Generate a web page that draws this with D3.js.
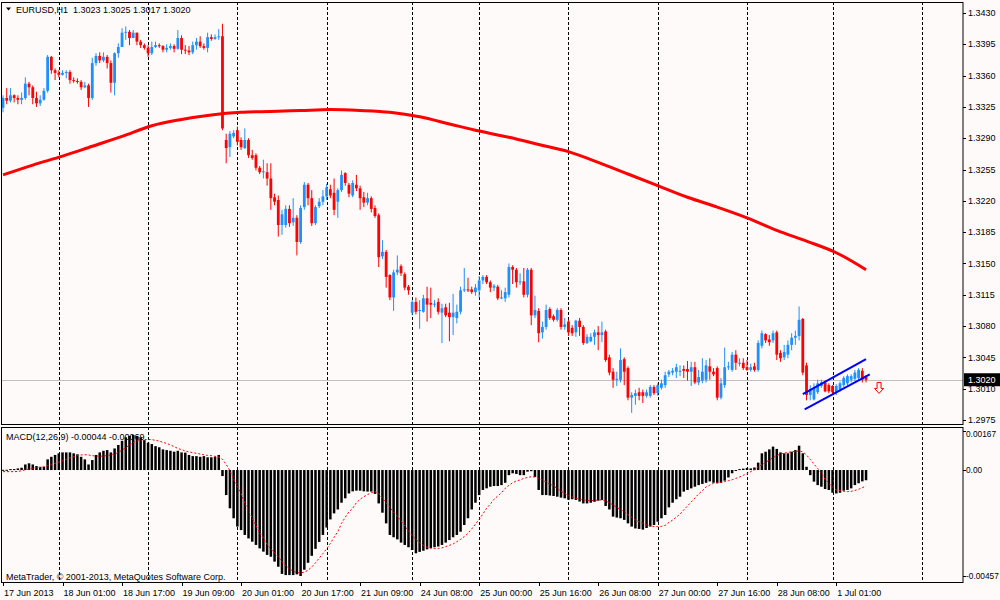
<!DOCTYPE html>
<html>
<head>
<meta charset="utf-8">
<script src="https://cdn.jsdelivr.net/npm/d3@7"></script>
<style>
  body { margin: 0; background: #fffafa; }
  svg text { font-family: "Liberation Sans", Arial, sans-serif; font-size: 9px; fill: #000; }
</style>
</head>
<body>
<svg id="chart" width="1000" height="600"></svg>
<script>
// EURUSD H1 candles, bar 0 = first visible bar (17 Jun 2013)

const open = [
  1.3324,1.3335,1.3332,1.3338,1.3335,1.3333,1.3335,1.3351,1.3347,1.3335,
  1.3329,1.3333,1.3343,1.3381,1.3366,1.3363,1.3361,1.3363,1.3364,1.3355,
  1.3354,1.3353,1.3347,1.3349,1.3335,1.3374,1.3382,1.3377,1.3381,1.3374,
  1.3352,1.3385,1.3392,1.3408,1.3409,1.3402,1.3408,1.3398,1.3394,1.3391,
  1.3385,1.3392,1.3394,1.3393,1.3389,1.3391,1.3393,1.3390,1.3402,1.3389,
  1.3388,1.3386,1.3394,1.3398,1.3393,1.3391,1.3403,1.3401,1.3403,1.3404,
  1.3288,1.3280,1.3292,1.3299,1.3288,1.3279,1.3288,1.3271,1.3271,1.3257,
  1.3252,1.3252,1.3245,1.3224,1.3221,1.3193,1.3193,1.3211,1.3196,1.3201,
  1.3174,1.3213,1.3238,1.3223,1.3195,1.3214,1.3219,1.3225,1.3233,1.3229,
  1.3219,1.3232,1.3251,1.3238,1.3226,1.3238,1.3234,1.3224,1.3218,1.3223,
  1.3212,1.3204,1.3158,1.3163,1.3137,1.3112,1.3140,1.3147,1.3138,1.3124,
  1.3095,1.3107,1.3097,1.3096,1.3111,1.3106,1.3104,1.3107,1.3095,1.3101,
  1.3095,1.3090,1.3089,1.3096,1.3120,1.3121,1.3121,1.3118,1.3120,1.3131,
  1.3135,1.3129,1.3123,1.3124,1.3111,1.3111,1.3115,1.3146,1.3143,1.3129,
  1.3130,1.3115,1.3143,1.3092,1.3097,1.3073,1.3079,1.3099,1.3091,1.3087,
  1.3098,1.3079,1.3085,1.3078,1.3073,1.3086,1.3079,1.3061,1.3063,1.3068,
  1.3073,1.3070,1.3074,1.3045,1.3029,1.3020,1.3020,1.3043,1.3033,1.3000,
  1.3002,1.3006,1.3006,1.3002,1.3002,1.3012,1.3005,1.3011,1.3014,1.3026,
  1.3028,1.3029,1.3029,1.3032,1.3032,1.3029,1.3034,1.3017,1.3019,1.3020,
  1.3035,1.3029,1.3033,1.3000,1.3014,1.3034,1.3031,1.3048,1.3038,1.3039,
  1.3034,1.3031,1.3035,1.3031,1.3058,1.3071,1.3065,1.3064,1.3073,1.3050,
  1.3045,1.3048,1.3059,1.3067,1.3069,1.3088,1.3036,1.3003,1.2998,1.3006,
  1.3013,1.3017,1.3014,1.3013,1.3006,1.3009,1.3014,1.3016,1.3020,1.3021,
  1.3022,1.3030,1.3023
];

const high = [
  1.3338,1.3346,1.3346,1.3339,1.3338,1.3341,1.3358,1.3353,1.3349,1.3342,
  1.3338,1.3346,1.3383,1.3382,1.3368,1.3366,1.3366,1.3366,1.3366,1.3358,
  1.3357,1.3355,1.3353,1.3351,1.3380,1.3385,1.3386,1.3386,1.3383,1.3377,
  1.3386,1.3396,1.3413,1.3415,1.3411,1.3411,1.3408,1.3400,1.3396,1.3394,
  1.3398,1.3398,1.3396,1.3394,1.3395,1.3396,1.3395,1.3411,1.3405,1.3394,
  1.3393,1.3398,1.3402,1.3404,1.3396,1.3408,1.3406,1.3406,1.3412,1.3418,
  1.3295,1.3298,1.3299,1.3303,1.3291,1.3301,1.3290,1.3277,1.3273,1.3259,
  1.3266,1.3262,1.3262,1.3228,1.3226,1.3210,1.3215,1.3215,1.3223,1.3204,
  1.3215,1.3241,1.3240,1.3232,1.3215,1.3223,1.3232,1.3239,1.3238,1.3245,
  1.3234,1.3254,1.3252,1.3240,1.3243,1.3249,1.3237,1.3230,1.3229,1.3225,
  1.3215,1.3206,1.3176,1.3165,1.3138,1.3143,1.3159,1.3149,1.3140,1.3126,
  1.3109,1.3112,1.3109,1.3115,1.3124,1.3123,1.3109,1.3111,1.3105,1.3105,
  1.3106,1.3116,1.3104,1.3124,1.3145,1.3134,1.3124,1.3127,1.3136,1.3137,
  1.3137,1.3131,1.3127,1.3126,1.3120,1.3123,1.3150,1.3148,1.3145,1.3139,
  1.3145,1.3145,1.3145,1.3114,1.3100,1.3085,1.3104,1.3101,1.3093,1.3100,
  1.3100,1.3089,1.3087,1.3081,1.3087,1.3089,1.3081,1.3071,1.3072,1.3076,
  1.3080,1.3085,1.3076,1.3048,1.3033,1.3029,1.3055,1.3045,1.3035,1.3006,
  1.3009,1.3011,1.3009,1.3009,1.3014,1.3014,1.3016,1.3020,1.3029,1.3031,
  1.3033,1.3038,1.3036,1.3036,1.3041,1.3040,1.3040,1.3031,1.3044,1.3042,
  1.3044,1.3033,1.3035,1.3022,1.3056,1.3040,1.3051,1.3053,1.3044,1.3044,
  1.3042,1.3038,1.3039,1.3064,1.3075,1.3072,1.3070,1.3075,1.3075,1.3053,
  1.3059,1.3064,1.3072,1.3075,1.3102,1.3089,1.3039,1.3014,1.3016,1.3020,
  1.3020,1.3019,1.3016,1.3014,1.3015,1.3018,1.3024,1.3026,1.3026,1.3031,
  1.3033,1.3033,1.3025
];

const low = [
  1.3319,1.3328,1.3330,1.3330,1.3328,1.3328,1.3333,1.3338,1.3328,1.3325,
  1.3326,1.3332,1.3341,1.3362,1.3355,1.3358,1.3360,1.3357,1.3351,1.3352,
  1.3351,1.3344,1.3346,1.3325,1.3333,1.3371,1.3374,1.3375,1.3368,1.3341,
  1.3338,1.3380,1.3394,1.3400,1.3394,1.3402,1.3394,1.3391,1.3389,1.3381,
  1.3383,1.3391,1.3391,1.3386,1.3386,1.3389,1.3386,1.3389,1.3384,1.3384,
  1.3383,1.3384,1.3389,1.3391,1.3389,1.3386,1.3399,1.3400,1.3400,1.3299,
  1.3262,1.3269,1.3290,1.3282,1.3277,1.3278,1.3268,1.3266,1.3254,1.3250,
  1.3245,1.3237,1.3210,1.3215,1.3180,1.3182,1.3190,1.3191,1.3192,1.3159,
  1.3172,1.3210,1.3215,1.3192,1.3193,1.3212,1.3215,1.3221,1.3223,1.3204,
  1.3201,1.3230,1.3237,1.3224,1.3224,1.3231,1.3210,1.3213,1.3215,1.3207,
  1.3201,1.3146,1.3155,1.3123,1.3109,1.3097,1.3137,1.3136,1.3120,1.3115,
  1.3092,1.3093,1.3077,1.3095,1.3085,1.3089,1.3101,1.3093,1.3061,1.3090,
  1.3063,1.3070,1.3083,1.3093,1.3118,1.3118,1.3116,1.3114,1.3112,1.3127,
  1.3127,1.3118,1.3119,1.3109,1.3110,1.3107,1.3112,1.3127,1.3123,1.3126,
  1.3112,1.3112,1.3081,1.3089,1.3062,1.3066,1.3076,1.3087,1.3085,1.3085,
  1.3076,1.3076,1.3069,1.3069,1.3068,1.3069,1.3059,1.3060,1.3062,1.3059,
  1.3053,1.3062,1.3040,1.3025,1.3011,1.3013,1.3017,1.3014,1.2997,1.2983,
  1.2992,1.2997,1.2994,1.3000,1.3000,1.3003,1.3002,1.3009,1.3011,1.3023,
  1.3025,1.3022,1.3024,1.3022,1.3019,1.3013,1.3015,1.3014,1.3016,1.3017,
  1.3020,1.3024,1.2997,1.2998,1.3011,1.3031,1.3029,1.3031,1.3035,1.3031,
  1.3030,1.3029,1.3029,1.3029,1.3055,1.3061,1.3058,1.3061,1.3042,1.3040,
  1.3042,1.3044,1.3053,1.3059,1.3064,1.3025,1.2997,1.2997,1.2997,1.3004,
  1.3011,1.3006,1.3005,1.3004,1.3003,1.3007,1.3012,1.3014,1.3017,1.3019,
  1.3020,1.3017,1.3017
];

const close = [
  1.3335,1.3332,1.3338,1.3335,1.3333,1.3335,1.3351,1.3347,1.3335,1.3329,
  1.3333,1.3343,1.3381,1.3366,1.3363,1.3361,1.3363,1.3364,1.3355,1.3354,
  1.3353,1.3347,1.3349,1.3335,1.3374,1.3382,1.3377,1.3381,1.3374,1.3352,
  1.3385,1.3392,1.3408,1.3409,1.3402,1.3408,1.3398,1.3394,1.3391,1.3385,
  1.3392,1.3394,1.3393,1.3389,1.3391,1.3393,1.3390,1.3402,1.3389,1.3388,
  1.3386,1.3394,1.3398,1.3393,1.3391,1.3403,1.3401,1.3403,1.3404,1.3301,
  1.3279,1.3295,1.3296,1.3286,1.3280,1.3288,1.3271,1.3268,1.3257,1.3252,
  1.3253,1.3245,1.3223,1.3219,1.3193,1.3205,1.3211,1.3195,1.3201,1.3174,
  1.3212,1.3238,1.3223,1.3195,1.3213,1.3219,1.3225,1.3235,1.3226,1.3210,
  1.3232,1.3249,1.3240,1.3228,1.3240,1.3234,1.3223,1.3218,1.3223,1.3211,
  1.3203,1.3157,1.3163,1.3135,1.3112,1.3140,1.3143,1.3139,1.3123,1.3120,
  1.3107,1.3096,1.3098,1.3111,1.3104,1.3104,1.3105,1.3096,1.3100,1.3092,
  1.3090,1.3095,1.3096,1.3120,1.3121,1.3120,1.3118,1.3123,1.3131,1.3135,
  1.3129,1.3123,1.3125,1.3111,1.3112,1.3118,1.3146,1.3143,1.3129,1.3130,
  1.3115,1.3143,1.3092,1.3098,1.3072,1.3079,1.3098,1.3089,1.3087,1.3098,
  1.3079,1.3082,1.3073,1.3072,1.3086,1.3079,1.3061,1.3068,1.3068,1.3073,
  1.3070,1.3073,1.3042,1.3028,1.3020,1.3021,1.3042,1.3029,1.3000,1.3003,
  1.3005,1.3002,1.3002,1.3006,1.3012,1.3005,1.3014,1.3016,1.3025,1.3029,
  1.3030,1.3034,1.3030,1.3030,1.3029,1.3034,1.3017,1.3023,1.3029,1.3036,
  1.3029,1.3026,1.3000,1.3016,1.3034,1.3035,1.3048,1.3039,1.3039,1.3033,
  1.3031,1.3034,1.3031,1.3061,1.3072,1.3064,1.3062,1.3072,1.3048,1.3044,
  1.3051,1.3059,1.3067,1.3069,1.3087,1.3028,1.3003,1.3009,1.3011,1.3016,
  1.3017,1.3007,1.3007,1.3006,1.3013,1.3016,1.3022,1.3024,1.3024,1.3028,
  1.3031,1.3020,1.3020
];

// MACD(12,26,9) histogram (main line) and signal line
const macdMain = [
  0.00001,0.00001,0.00004,0.00004,0.00007,0.00010,0.00024,0.00029,0.00024,0.00017,
  0.00014,0.00014,0.00046,0.00057,0.00065,0.00072,0.00076,0.00076,0.00076,0.00072,
  0.00068,0.00057,0.00046,0.00024,0.00043,0.00065,0.00076,0.00083,0.00086,0.00076,
  0.00093,0.00108,0.00126,0.00141,0.00147,0.00151,0.00147,0.00141,0.00129,0.00118,
  0.00112,0.00103,0.00098,0.00089,0.00086,0.00083,0.00079,0.00083,0.00076,0.00075,
  0.00065,0.00060,0.00060,0.00057,0.00060,0.00055,0.00055,0.00057,0.00065,-0.00026,
  -0.00108,-0.00165,-0.00208,-0.00244,-0.00259,-0.00280,-0.00295,-0.00309,-0.00323,-0.00338,
  -0.00352,-0.00366,-0.00374,-0.00395,-0.00417,-0.00448,-0.00453,-0.00453,-0.00453,-0.00450,
  -0.00457,-0.00430,-0.00400,-0.00370,-0.00340,-0.00310,-0.00280,-0.00248,-0.00213,-0.00187,
  -0.00170,-0.00141,-0.00122,-0.00101,-0.00092,-0.00089,-0.00089,-0.00092,-0.00093,-0.00093,
  -0.00103,-0.00144,-0.00184,-0.00230,-0.00280,-0.00290,-0.00299,-0.00313,-0.00323,-0.00333,
  -0.00345,-0.00359,-0.00353,-0.00348,-0.00342,-0.00336,-0.00333,-0.00330,-0.00323,-0.00313,
  -0.00302,-0.00290,-0.00280,-0.00266,-0.00237,-0.00208,-0.00170,-0.00141,-0.00108,-0.00086,
  -0.00079,-0.00072,-0.00069,-0.00069,-0.00065,-0.00055,-0.00022,-0.00014,-0.00017,-0.00022,
  -0.00022,-0.00007,-0.00005,-0.00030,-0.00086,-0.00108,-0.00108,-0.00110,-0.00112,-0.00115,
  -0.00119,-0.00122,-0.00128,-0.00126,-0.00129,-0.00136,-0.00144,-0.00144,-0.00141,-0.00137,
  -0.00132,-0.00129,-0.00155,-0.00170,-0.00201,-0.00205,-0.00208,-0.00215,-0.00230,-0.00244,
  -0.00252,-0.00254,-0.00257,-0.00250,-0.00244,-0.00237,-0.00223,-0.00208,-0.00194,-0.00161,
  -0.00141,-0.00126,-0.00115,-0.00093,-0.00086,-0.00079,-0.00072,-0.00065,-0.00060,-0.00055,
  -0.00049,-0.00055,-0.00057,-0.00055,-0.00046,-0.00032,-0.00014,-0.00004,0.00004,0.00006,
  0.00009,0.00007,0.00011,0.00032,0.00072,0.00079,0.00089,0.00101,0.00091,0.00076,
  0.00072,0.00072,0.00079,0.00086,0.00105,0.00072,0.00014,-0.00022,-0.00050,-0.00065,
  -0.00072,-0.00082,-0.00086,-0.00098,-0.00101,-0.00098,-0.00089,-0.00086,-0.00079,-0.00065,
  -0.00057,-0.00049,-0.00044
];

const macdSignal = [
  -0.00007,-0.00007,-0.00007,-0.00007,-0.00006,-0.00003,0.00001,0.00004,0.00007,0.00010,
  0.00011,0.00014,0.00019,0.00023,0.00029,0.00034,0.00040,0.00046,0.00052,0.00057,
  0.00062,0.00065,0.00066,0.00065,0.00062,0.00060,0.00060,0.00060,0.00062,0.00065,
  0.00069,0.00076,0.00086,0.00096,0.00109,0.00118,0.00125,0.00129,0.00131,0.00132,
  0.00131,0.00128,0.00125,0.00119,0.00115,0.00108,0.00101,0.00093,0.00088,0.00082,
  0.00078,0.00075,0.00072,0.00069,0.00066,0.00063,0.00062,0.00059,0.00056,0.00046,
  0.00024,-0.00003,-0.00037,-0.00069,-0.00101,-0.00144,-0.00175,-0.00207,-0.00240,-0.00270,
  -0.00296,-0.00320,-0.00341,-0.00356,-0.00375,-0.00395,-0.00412,-0.00426,-0.00436,-0.00442,
  -0.00444,-0.00440,-0.00432,-0.00418,-0.00400,-0.00380,-0.00360,-0.00340,-0.00316,-0.00290,
  -0.00266,-0.00230,-0.00204,-0.00180,-0.00165,-0.00141,-0.00126,-0.00115,-0.00106,-0.00098,
  -0.00093,-0.00101,-0.00122,-0.00141,-0.00161,-0.00181,-0.00201,-0.00218,-0.00241,-0.00261,
  -0.00284,-0.00299,-0.00313,-0.00325,-0.00333,-0.00338,-0.00339,-0.00338,-0.00336,-0.00330,
  -0.00325,-0.00319,-0.00309,-0.00299,-0.00287,-0.00273,-0.00254,-0.00233,-0.00213,-0.00190,
  -0.00165,-0.00147,-0.00126,-0.00112,-0.00098,-0.00079,-0.00066,-0.00055,-0.00047,-0.00043,
  -0.00036,-0.00032,-0.00029,-0.00030,-0.00037,-0.00043,-0.00052,-0.00060,-0.00069,-0.00079,
  -0.00091,-0.00101,-0.00111,-0.00116,-0.00121,-0.00125,-0.00129,-0.00131,-0.00132,-0.00131,
  -0.00129,-0.00129,-0.00134,-0.00141,-0.00151,-0.00161,-0.00170,-0.00180,-0.00193,-0.00204,
  -0.00216,-0.00224,-0.00230,-0.00236,-0.00241,-0.00244,-0.00244,-0.00243,-0.00239,-0.00226,
  -0.00216,-0.00203,-0.00190,-0.00172,-0.00155,-0.00138,-0.00121,-0.00103,-0.00089,-0.00073,
  -0.00065,-0.00057,-0.00055,-0.00053,-0.00050,-0.00046,-0.00042,-0.00036,-0.00030,-0.00023,
  -0.00016,-0.00007,0.00001,0.00014,0.00023,0.00033,0.00043,0.00053,0.00062,0.00069,
  0.00073,0.00076,0.00079,0.00080,0.00083,0.00078,0.00065,0.00046,0.00026,0.00007,
  -0.00014,-0.00040,-0.00057,-0.00075,-0.00086,-0.00089,-0.00092,-0.00093,-0.00092,-0.00088,
  -0.00083,-0.00076,-0.00069
];

// thick red moving average, read every 8 bars
const maBars = [0,8,16,24,32,40,48,56,64,72,80,88,96,104,112,120,128,136,144,152,160,168,176,184,192,200,208,216,224,232];
const maValues = [1.3249,1.3260,1.3270,1.3281,1.3292,1.3304,1.3311,1.3316,1.3319,1.3320,1.3321,1.3322,1.3321,1.3319,1.3314,
                  1.3306,1.3298,1.3291,1.3283,1.3275,1.3263,1.3250,1.3237,1.3224,1.3213,1.3201,1.3187,1.3175,1.3162,1.3143];

// blue channel lines [bar, price]
const channelUpper = [[215, 1.3004], [232, 1.3043]];
const channelLower = [[215.5, 1.2987], [233, 1.3026]];

// time axis
const timeLabels = ['17 Jun 2013','18 Jun 01:00','18 Jun 17:00','19 Jun 09:00','20 Jun 01:00','20 Jun 17:00','21 Jun 09:00',
  '24 Jun 08:00','25 Jun 00:00','25 Jun 16:00','26 Jun 08:00','27 Jun 00:00','27 Jun 16:00','28 Jun 08:00','1 Jul 01:00'];
const timeLabelBars = [0,16,32,48,64,80,96,112,128,144,160,176,192,208,224];
const dayStartBars = [15,39,63,87,110,128,152,176,200,223,247];

const priceTicks = [1.3430,1.3395,1.3360,1.3325,1.3290,1.3255,1.3220,1.3185,1.3150,1.3115,1.3080,1.3045,1.3010,1.2975];
const macdTicks = [0.00167, 0, -0.00457];

const currentPrice = 1.3020;
const sellArrow = [235.5, 1.3017];

// layout
const axisX = 963;
const pricePanel = {top: 2, bottom: 424};
const macdPanel = {top: 427, bottom: 582};
const bullColor = '#1e90ff';
const bearColor = '#ff0000';

const svg = d3.select('#chart');

const x = d3.scaleLinear().domain([0, 247]).range([3, 3 + 247 * 3.72]);
const yPrice = d3.scaleLinear().domain([1.2975, 1.3430]).range([420, 13]);
const yMacd = d3.scaleLinear().domain([-0.00457, 0.00167]).range([576, 431.3]);

const n = close.length;
const bars = d3.range(n).map(i => ({i: i, o: open[i], h: high[i], l: low[i], c: close[i]}));

svg.append('rect').attr('width', 1000).attr('height', 600).attr('fill', '#fffafa');

const defs = svg.append('defs');
defs.append('clipPath').attr('id', 'clipPrice')
    .append('rect').attr('x', 1).attr('y', pricePanel.top).attr('width', axisX - 1).attr('height', pricePanel.bottom - pricePanel.top);
defs.append('clipPath').attr('id', 'clipMacd')
    .append('rect').attr('x', 1).attr('y', macdPanel.top).attr('width', axisX - 1).attr('height', macdPanel.bottom - macdPanel.top);

/* day separators, dotted, through both panels */
svg.append('g')
    .selectAll('line')
    .data(dayStartBars)
    .join('line')
    .attr('x1', d => Math.round(x(d)) + 0.5)
    .attr('x2', d => Math.round(x(d)) + 0.5)
    .attr('y1', pricePanel.top)
    .attr('y2', macdPanel.bottom)
    .attr('stroke', '#000')
    .attr('stroke-dasharray', '3,2');

// ---------- price panel ----------
const pg = svg.append('g').attr('clip-path', 'url(#clipPrice)');

pg.append('line')
    .attr('x1', 1).attr('x2', axisX)
    .attr('y1', Math.round(yPrice(currentPrice)) + 0.5)
    .attr('y2', Math.round(yPrice(currentPrice)) + 0.5)
    .attr('stroke', '#c0c0c0');

let candle = pg.append('g')
    .selectAll('g')
    .data(bars)
    .join('g')
    .attr('fill', d => d.c >= d.o ? bullColor : bearColor)
    .attr('stroke', d => d.c >= d.o ? bullColor : bearColor);

candle.append('line')
    .attr('x1', d => x(d.i))
    .attr('x2', d => x(d.i))
    .attr('y1', d => yPrice(d.h))
    .attr('y2', d => yPrice(d.l))
    .attr('stroke-width', 1);

candle.append('rect')
    .attr('x', d => x(d.i) - 1.4)
    .attr('width', 2.8)
    .attr('y', d => yPrice(Math.max(d.o, d.c)))
    .attr('height', d => Math.max(1, Math.abs(yPrice(d.o) - yPrice(d.c))))
    .attr('stroke', 'none');

// moving average
pg.append('path')
    .datum(d3.zip(maBars, maValues))
    .attr('fill', 'none')
    .attr('stroke', '#ff0000')
    .attr('stroke-width', 3)
    .attr('d', d3.line().x(d => x(d[0])).y(d => yPrice(d[1])).curve(d3.curveMonotoneX));

// channel
pg.selectAll('.channel')
    .data([channelUpper, channelLower])
    .join('path')
    .attr('class', 'channel')
    .attr('fill', 'none')
    .attr('stroke', '#0000ff')
    .attr('stroke-width', 2)
    .attr('d', d3.line().x(d => x(d[0])).y(d => yPrice(d[1])));

// sell arrow
pg.append('path')
    .attr('transform', `translate(${x(sellArrow[0])},${yPrice(sellArrow[1])})`)
    .attr('d', 'M-2,0 L2,0 L2,6 L4.5,6 L0,11 L-4.5,6 L-2,6 Z')
    .attr('fill', '#fffafa')
    .attr('stroke', '#ff0000')
    .attr('stroke-width', 1);

// ---------- MACD panel ----------
const mg = svg.append('g').attr('clip-path', 'url(#clipMacd)');

mg.append('g')
    .selectAll('rect')
    .data(macdMain)
    .join('rect')
    .attr('x', (d, i) => x(i) - 1.25)
    .attr('width', 2.5)
    .attr('y', d => Math.min(yMacd(d), yMacd(0)))
    .attr('height', d => Math.max(1, Math.abs(yMacd(d) - yMacd(0))))
    .attr('fill', '#000');

mg.append('path')
    .datum(macdSignal)
    .attr('fill', 'none')
    .attr('stroke', '#ff0000')
    .attr('stroke-width', 1)
    .attr('stroke-dasharray', '2,2')
    .attr('d', d3.line().x((d, i) => x(i)).y(d => yMacd(d)));

// ---------- frames ----------
svg.append('rect')
    .attr('x', 1.5).attr('y', pricePanel.top + 0.5)
    .attr('width', axisX - 1.5).attr('height', pricePanel.bottom - pricePanel.top)
    .attr('fill', 'none').attr('stroke', '#000');
svg.append('rect')
    .attr('x', 1.5).attr('y', macdPanel.top + 0.5)
    .attr('width', axisX - 1.5).attr('height', macdPanel.bottom - macdPanel.top)
    .attr('fill', 'none').attr('stroke', '#000');

// right price axis
const pAxis = svg.append('g');
pAxis.selectAll('line')
    .data(priceTicks)
    .join('line')
    .attr('x1', axisX).attr('x2', axisX + 3)
    .attr('y1', d => Math.round(yPrice(d)) + 0.5)
    .attr('y2', d => Math.round(yPrice(d)) + 0.5)
    .attr('stroke', '#000');
pAxis.selectAll('text')
    .data(priceTicks)
    .join('text')
    .attr('x', axisX + 5)
    .attr('y', d => yPrice(d))
    .attr('dy', '0.35em')
    .text(d => d.toFixed(4));

// current price box
const cpY = yPrice(currentPrice);
svg.append('rect')
    .attr('x', axisX + 1).attr('y', cpY - 6.5)
    .attr('width', 36).attr('height', 13)
    .attr('fill', '#000');
svg.append('text')
    .attr('x', axisX + 5).attr('y', cpY)
    .attr('dy', '0.35em')
    .style('fill', '#fff')
    .text(currentPrice.toFixed(4));

// MACD axis
const mAxis = svg.append('g');
mAxis.selectAll('line')
    .data(macdTicks)
    .join('line')
    .attr('x1', axisX).attr('x2', axisX + 3)
    .attr('y1', d => Math.round(yMacd(d)) + 0.5)
    .attr('y2', d => Math.round(yMacd(d)) + 0.5)
    .attr('stroke', '#000');
mAxis.selectAll('text')
    .data(macdTicks)
    .join('text')
    .attr('x', axisX + 3)
    .attr('y', d => Math.min(Math.max(yMacd(d), 434), 577))
    .attr('dy', '0.35em')
    .style('font-size', '8.3px')
    .text(d => d === 0 ? '0.00' : d.toFixed(5));

// time axis
const tAxis = svg.append('g');
tAxis.selectAll('line')
    .data(timeLabelBars)
    .join('line')
    .attr('x1', d => Math.round(x(d)) + 0.5)
    .attr('x2', d => Math.round(x(d)) + 0.5)
    .attr('y1', macdPanel.bottom)
    .attr('y2', macdPanel.bottom + 4)
    .attr('stroke', '#000');
tAxis.selectAll('text')
    .data(timeLabelBars)
    .join('text')
    .attr('x', d => x(d) + 1)
    .attr('y', 596)
    .text((d, i) => timeLabels[i]);

// ---------- titles ----------
svg.append('path')
    .attr('d', 'M6,7.5 L11,7.5 L8.5,10.5 Z')
    .attr('fill', '#000');
svg.append('text')
    .attr('x', 16).attr('y', 13)
    .style('white-space', 'pre')
    .text(`EURUSD,H1  ${open[n - 1].toFixed(4)} ${high[n - 1].toFixed(4)} ${low[n - 1].toFixed(4)} ${close[n - 1].toFixed(4)}`);

svg.append('text')
    .attr('x', 6).attr('y', 440)
    .text(`MACD(12,26,9) ${macdMain[n - 1].toFixed(5)} ${macdSignal[n - 1].toFixed(5)}`);

svg.append('text')
    .attr('x', 6).attr('y', 579.5)
    .text('MetaTrader, \u00a9 2001-2013, MetaQuotes Software Corp.');
</script>
</body>
</html>
